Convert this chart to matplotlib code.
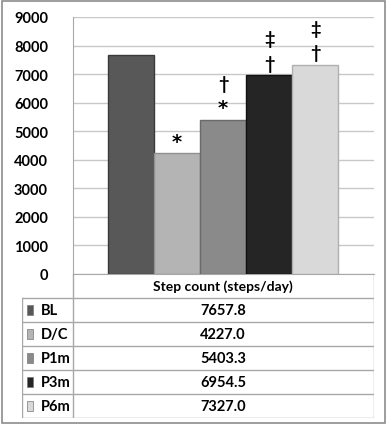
import matplotlib.pyplot as plt
from matplotlib.patches import Rectangle

# groups and mean step counts
groups = ['BL', 'D/C', 'P1m', 'P3m', 'P6m']
steps = [7657.8, 4227.0, 5403.3, 6954.5, 7327.0]
value_labels = ['7657.8', '4227.0', '5403.3', '6954.5', '7327.0']
# significance markers above each bar (bottom to top)
marks = [[], ['*'], ['*', '†'], ['†', '‡'], ['†', '‡']]
colors = ['#585858', '#b4b4b4', '#8a8a8a', '#252525', '#d9d9d9']
edges = ['#3a3a3a', '#909090', '#6a6a6a', '#111111', '#b0b0b0']
header = 'Step count (steps/day)'
yticks = [0, 1000, 2000, 3000, 4000, 5000, 6000, 7000, 8000, 9000]

plt.rcParams['font.family'] = ['Lato', 'DejaVu Sans']
plt.rcParams['font.weight'] = 'bold'

W, H = 388, 427
fig = plt.figure(figsize=(W / 100, H / 100), dpi=100)
fig.patch.set_facecolor('white')


def fx(px):
    return px / W


def fy(py):
    return 1 - py / H


# outer frame
fig.patches.append(Rectangle((fx(2), fy(424)), fx(383), 422 / H, transform=fig.transFigure,
                             fill=False, edgecolor='#8c8c8c', linewidth=1.2))

# bar chart
ax = fig.add_axes([fx(73), fy(275), fx(374 - 73), (275 - 18) / H])
x = list(range(len(groups)))
ax.bar(x, steps, width=1.0, color=colors, edgecolor=edges, linewidth=1.0, zorder=3)
ax.set_xlim(-1.26, 5.28)
ax.set_ylim(0, 9000)
ax.set_yticks(yticks)
ax.set_yticklabels([str(t) for t in yticks], fontsize=10.5, fontweight='bold')
ax.tick_params(axis='y', length=0, pad=18)
ax.tick_params(axis='x', length=0, labelbottom=False)
ax.grid(axis='y', color='#c8c8c8', linewidth=1.0, zorder=0)
for s in ['top', 'right']:
    ax.spines[s].set_visible(False)
for s in ['left', 'bottom']:
    ax.spines[s].set_color('#a8a8a8')

offsets = [430, 1280]
for i, mk in enumerate(marks):
    for j, m in enumerate(mk):
        fam = ['DejaVu Sans'] if m == '*' else ['Lato', 'DejaVu Sans']
        ax.text(i, steps[i] + offsets[j], m, ha='center', va='center',
                fontsize=14 if m == '*' else 13, fontweight='bold', color='black', family=fam)

# data table below
tax = fig.add_axes([fx(22), fy(419), fx(374 - 22), (419 - 275) / H])
tax.set_xlim(22, 374)
tax.set_ylim(6, 0)
tax.axis('off')
lc = '#a8a8a8'
tax.plot([73, 73], [0, 6], color=lc, lw=1.0)
tax.plot([374, 374], [0, 6], color=lc, lw=1.0)
tax.plot([22, 22], [1, 6], color=lc, lw=1.0)
for r in range(1, 7):
    tax.plot([22, 374], [r, r], color=lc, lw=1.0)

tax.text(223, 0.5, header, ha='center', va='center', fontsize=10, fontweight='bold')
for r, (g, v, c) in enumerate(zip(groups, value_labels, colors)):
    yy = r + 1.5
    tax.add_patch(Rectangle((27, yy - 0.2), 6, 0.4, facecolor=c, edgecolor='#777777', lw=0.5))
    tax.text(41, yy, g, ha='left', va='center', fontsize=10.5, fontweight='bold')
    tax.text(223, yy, v, ha='center', va='center', fontsize=10.5, fontweight='bold')

fig.savefig('out.png', dpi=100)
